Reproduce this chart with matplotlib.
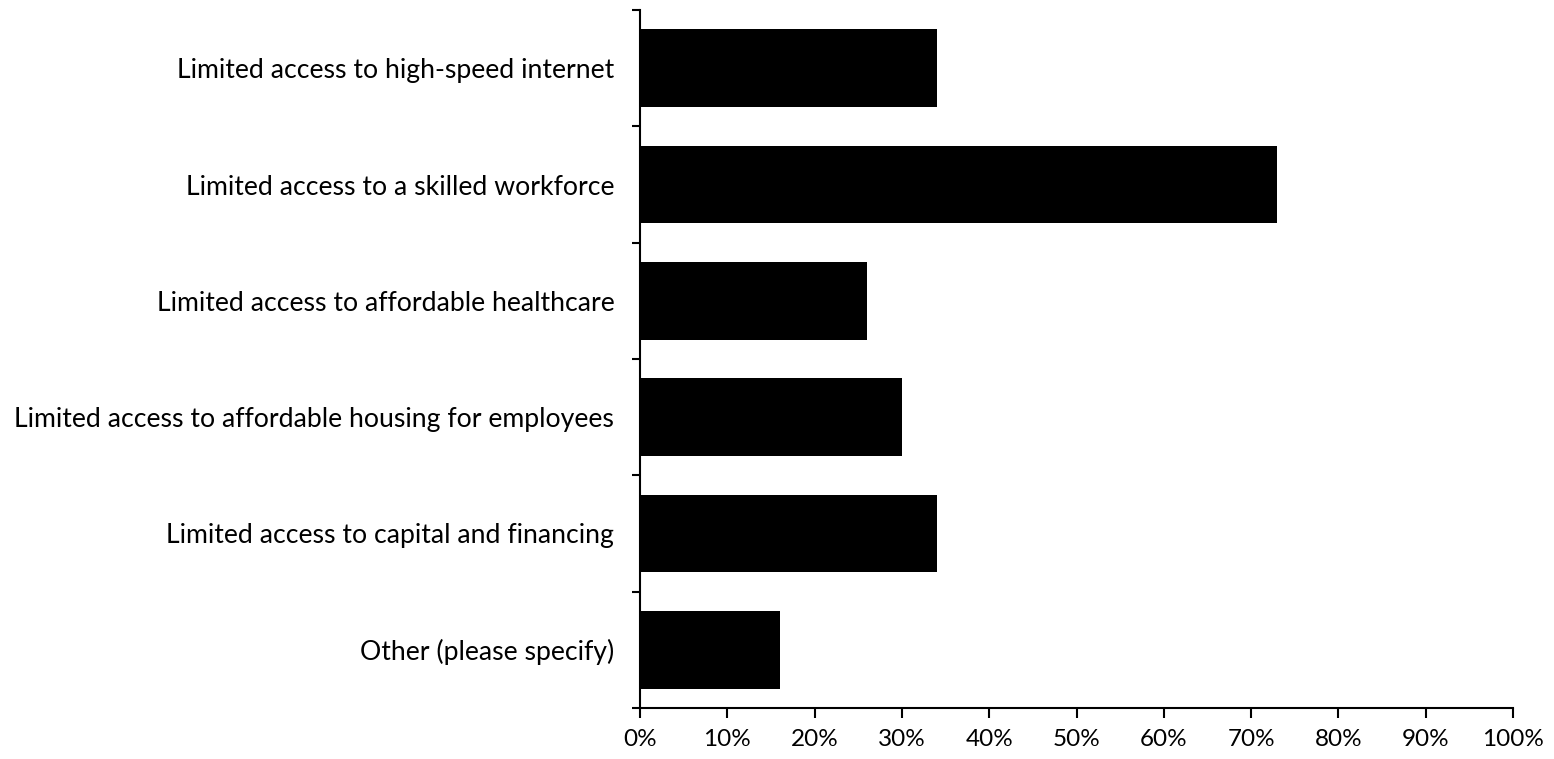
import numpy as np
import matplotlib
matplotlib.use('Agg')
import matplotlib.pyplot as plt
from matplotlib.ticker import MultipleLocator, FuncFormatter

# survey answers, top to bottom as shown
categories = [
    "Limited access to high-speed internet",
    "Limited access to a skilled workforce",
    "Limited access to affordable healthcare",
    "Limited access to affordable housing for employees",
    "Limited access to capital and financing",
    "Other (please specify)",
]
shares = [34, 73, 26, 30, 34, 16]

plt.rcParams['font.family'] = ['Lato', 'DejaVu Sans']

fig = plt.figure(figsize=(15.54, 7.59), dpi=100)
ax = fig.add_axes([640 / 1554, 51 / 759, 873 / 1554, 698 / 759])

pos = np.arange(len(categories))
ax.barh(pos, shares, height=0.67, color='black')

ax.set_xlim(0, 100)
ax.set_ylim(len(categories) - 0.5, -0.5)
ax.xaxis.set_major_locator(MultipleLocator(10))
ax.xaxis.set_major_formatter(FuncFormatter(lambda v, p: f"{v:.0f}%"))

# labels in the middle of each band, ticks on the band edges
ax.set_yticks(np.arange(len(categories) + 1) - 0.5)
ax.set_yticklabels([])
ax.set_yticks(pos, minor=True)
ax.set_yticklabels(categories, minor=True)
ax.tick_params(axis='y', which='minor', length=0, pad=18.5, labelsize=19.2)
ax.tick_params(axis='y', which='major', length=6, width=1.5)
ax.tick_params(axis='x', length=7, width=1.5, labelsize=17.5, pad=8)

for s in ['top', 'right']:
    ax.spines[s].set_visible(False)
for s in ['left', 'bottom']:
    ax.spines[s].set_linewidth(1.5)

fig.savefig('out.png', dpi=100)
